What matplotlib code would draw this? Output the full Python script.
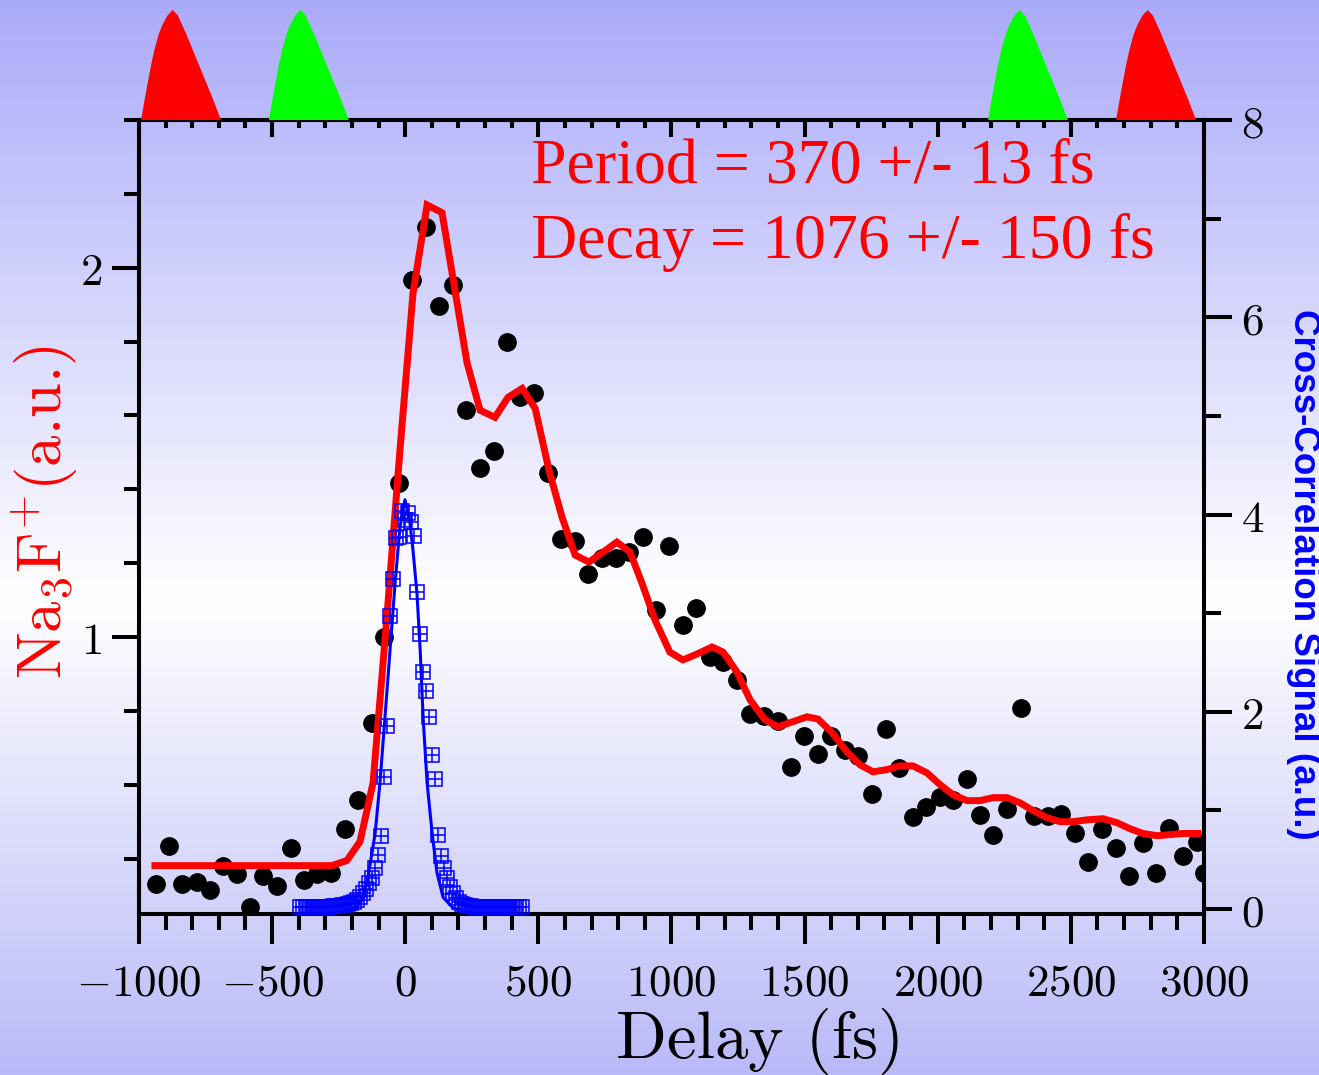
import numpy as np
import matplotlib
matplotlib.use('Agg')
import matplotlib.pyplot as plt
from matplotlib.ticker import MultipleLocator

plt.rcParams['mathtext.fontset'] = 'cm'

# Na3F+ ion signal (black dots), left axis
delay = [-936, -889, -838, -782, -733, -684, -632, -583, -534, -482,
         -429, -380, -331, -279, -226, -177, -125, -80, -23, 26,
         78, 127, 180, 228, 281, 334, 382, 431, 484, 536,
         585, 638, 686, 739, 792, 840, 893, 942, 991, 1043,
         1092, 1145, 1194, 1246, 1295, 1347, 1400, 1449, 1498, 1550,
         1599, 1652, 1701, 1753, 1806, 1855, 1907, 1956, 2009, 2057,
         2110, 2159, 2208, 2260, 2312, 2362, 2414, 2463, 2516, 2565,
         2617, 2670, 2719, 2771, 2820, 2869, 2921, 2974, 3000]
signal = [0.332, 0.435, 0.332, 0.338, 0.314, 0.381, 0.359, 0.268, 0.354, 0.327,
          0.430, 0.343, 0.359, 0.362, 0.481, 0.559, 0.768, 1.000, 1.416, 1.968,
          2.111, 1.895, 1.954, 1.616, 1.459, 1.505, 1.800, 1.651, 1.662, 1.443,
          1.265, 1.259, 1.170, 1.214, 1.214, 1.230, 1.270, 1.073, 1.246, 1.032,
          1.078, 0.946, 0.932, 0.884, 0.792, 0.786, 0.773, 0.649, 0.732, 0.684,
          0.732, 0.695, 0.678, 0.576, 0.751, 0.646, 0.514, 0.541, 0.568, 0.559,
          0.616, 0.519, 0.465, 0.535, 0.808, 0.516, 0.516, 0.522, 0.468, 0.392,
          0.481, 0.430, 0.354, 0.443, 0.362, 0.484, 0.408, 0.446, 0.362]

# fit (red line)
fit_delay = [-940, -275, -219, -170, -121, -69, -20, 29, 82, 138,
             187, 232, 281, 337, 386, 439, 488, 540, 589, 638,
             690, 743, 795, 844, 889, 938, 994, 1043, 1096, 1152,
             1194, 1246, 1295, 1351, 1400, 1453, 1509, 1550, 1603, 1659,
             1708, 1757, 1809, 1858, 1907, 1960, 2009, 2057, 2110, 2159,
             2208, 2260, 2309, 2358, 2410, 2459, 2508, 2561, 2621, 2674,
             2722, 2771, 2824, 2872, 2921, 2978]
fit_signal = [0.381, 0.381, 0.395, 0.446, 0.605, 1.054, 1.505, 1.930, 2.170, 2.149,
              1.938, 1.743, 1.614, 1.595, 1.649, 1.673, 1.619, 1.451, 1.324, 1.222,
              1.203, 1.230, 1.257, 1.230, 1.146, 1.046, 0.959, 0.938, 0.954, 0.973,
              0.959, 0.905, 0.830, 0.776, 0.757, 0.770, 0.784, 0.778, 0.741, 0.689,
              0.654, 0.635, 0.641, 0.651, 0.651, 0.632, 0.600, 0.573, 0.557, 0.557,
              0.565, 0.565, 0.551, 0.530, 0.511, 0.500, 0.500, 0.505, 0.508, 0.497,
              0.481, 0.468, 0.462, 0.465, 0.468, 0.468]

# cross-correlation (blue squares), right axis
xc_delay = [-395, -384, -373, -361, -350, -339, -328, -316, -305, -294,
            -283, -271, -260, -249, -238, -226, -215, -204, -193, -181,
            -170, -158, -147, -136, -124, -113, -102, -91, -80, -68,
            -57, -46, -35, -23, -12, -1, 11, 22, 33, 44,
            56, 67, 78, 89, 101, 112, 123, 134, 146, 157,
            168, 180, 191, 202, 213, 225, 236, 247, 258, 270,
            281, 292, 303, 315, 326, 337, 348, 360, 371, 382,
            393, 405, 416, 427, 438]
xc_signal = [0.02, 0.02, 0.02, 0.02, 0.02, 0.02, 0.02, 0.02, 0.02, 0.02,
             0.02, 0.03, 0.03, 0.03, 0.04, 0.04, 0.05, 0.06, 0.07, 0.09,
             0.12, 0.16, 0.20, 0.26, 0.32, 0.42, 0.55, 0.74, 1.34, 1.86,
             2.97, 3.35, 3.76, 3.77, 4.04, 3.94, 4.02, 3.92, 3.78, 3.21,
             2.79, 2.40, 2.21, 1.95, 1.56, 1.32, 0.75, 0.54, 0.42, 0.31,
             0.22, 0.16, 0.11, 0.07, 0.05, 0.04, 0.03, 0.03, 0.02, 0.02,
             0.02, 0.02, 0.02, 0.02, 0.02, 0.02, 0.02, 0.02, 0.02, 0.02,
             0.02, 0.02, 0.02, 0.02, 0.02]

# cross-correlation fit (blue line)
xcfit_delay = [-200, -180, -162, -140, -113, -95, -76, -57, -38, -20, -1,
               18, 29, 44, 56, 67, 82, 101, 119, 142, 180, 200]
xcfit_signal = [0.0, 0.03, 0.09, 0.32, 0.77, 1.28, 1.95, 2.63, 3.31, 3.87, 4.15,
                3.91, 3.64, 3.20, 2.63, 1.95, 1.28, 0.77, 0.37, 0.12, 0.01, 0.0]

x_ticks = [-1000, -500, 0, 500, 1000, 1500, 2000, 2500, 3000]
x_labels = ['$-1000$', '$-500$', '$0$', '$500$', '$1000$', '$1500$',
            '$2000$', '$2500$', '$3000$']
left_ticks = [1, 2]
left_labels = ['$1$', '$2$']
right_ticks = [0, 2, 4, 6, 8]
right_labels = ['$0$', '$2$', '$4$', '$6$', '$8$']

# pump/probe pulse sketches above the plot
pulse_start = [-992, -512, 2189, 2670]
pulse_colors = ['#ff0000', '#00ff00', '#00ff00', '#ff0000']
pulse_width = 300
pulse_t = [0, 0.04, 0.083, 0.125, 0.167, 0.22, 0.27, 0.33, 0.396, 0.46,
           0.56, 0.645, 0.73, 0.815, 0.9, 1.0]
pulse_h = [0, 0.17, 0.34, 0.50, 0.64, 0.78, 0.87, 0.95, 1.0, 0.95,
           0.79, 0.64, 0.49, 0.34, 0.19, 0]

W, H = 1319, 1075
fig = plt.figure(figsize=(W / 100, H / 100), dpi=100)

# background gradient
bg = fig.add_axes([0, 0, 1, 1], zorder=-10)
top_c = np.array([170, 170, 250]) / 255
mid_c = np.array([255, 255, 255]) / 255
bot_c = np.array([185, 185, 248]) / 255
grad = np.zeros((H, 1, 3))
for i in range(H):
    if i < 600:
        f = i / 600
        grad[i, 0] = top_c * (1 - f) + mid_c * f
    else:
        f = (i - 600) / (H - 600)
        grad[i, 0] = mid_c * (1 - f) + bot_c * f
bg.imshow(grad, aspect='auto', extent=[0, 1, 0, 1])
bg.axis('off')

L, R, T, B = 139, 1204, 120, 914
ax = fig.add_axes([L / W, 1 - B / H, (R - L) / W, (B - T) / H])
ax.set_facecolor('none')

ax.plot(delay, signal, 'o', color='black', ms=12.5, zorder=2)
ax.plot(fit_delay, fit_signal, color='#ff0000', lw=5, zorder=3,
        solid_joinstyle='miter')

ax.set_xlim(-1000, 3000)
ax.set_ylim(0.25, 2.4)
ax.set_xticks(x_ticks, x_labels)
ax.set_yticks(left_ticks, left_labels)
ax.xaxis.set_minor_locator(MultipleLocator(100))
ax.yaxis.set_minor_locator(MultipleLocator(0.2))
ax.tick_params(axis='x', which='major', direction='out', length=21.5, width=2.9,
               labelsize=32.5, pad=13)
ax.tick_params(axis='x', which='minor', direction='out', length=11.5, width=2.9)
ax.tick_params(axis='y', which='major', direction='out', length=19.5, width=2.9,
               labelsize=32.5, pad=7)
ax.tick_params(axis='y', which='minor', direction='out', length=10.5, width=2.9)
for s in ax.spines.values():
    s.set_linewidth(2.9)

top = ax.secondary_xaxis('top')
top.set_xticks(x_ticks, [''] * len(x_ticks))
top.xaxis.set_minor_locator(MultipleLocator(100))
top.tick_params(which='major', direction='in', length=12, width=2.9)
top.tick_params(which='minor', direction='in', length=6, width=2.9)
top.spines['top'].set_linewidth(2.9)

ax2 = ax.twinx()
ax2.plot(xcfit_delay, xcfit_signal, color='#0000ff', lw=2.2, zorder=3)
ax2.plot(xc_delay, xc_signal, 's', ms=10.5, mfc='none', mec='#0000ff', mew=1.1,
         zorder=4)
ax2.plot(xc_delay, xc_signal, '+', ms=10.5, mec='#0000ff', mew=1.1, zorder=4)
ax2.set_ylim(-0.05, 8.0)
ax2.set_yticks(right_ticks, right_labels)
ax2.yaxis.set_minor_locator(MultipleLocator(1))
ax2.tick_params(axis='y', which='major', direction='out', length=20, width=2.9,
                labelsize=32.5, pad=7)
ax2.tick_params(axis='y', which='minor', direction='out', length=12, width=2.9)
for s in ax2.spines.values():
    s.set_linewidth(2.9)

ax.text(0.368, 0.921, 'Period = 370 +/- 13 fs', transform=ax.transAxes,
        color='#ff0000', fontsize=46, family='Liberation Serif', va='baseline')
ax.text(0.368, 0.826, 'Decay = 1076 +/- 150 fs', transform=ax.transAxes,
        color='#ff0000', fontsize=46, family='Liberation Serif', va='baseline')

fig.text(760 / W, 1 - 1058 / H, 'Delay (fs)', fontsize=48, family='cmr10',
         ha='center', va='baseline')
fig.text(45 / W, 1 - 512 / H, r'$\mathrm{Na_3F^{{+}}}$(a.u.)', fontsize=45,
         family='cmr10', color='#ff0000', rotation=90, ha='center', va='center')
fig.text(1303 / W, 1 - 574 / H, 'Cross-Correlation Signal (a.u.)', fontsize=26.5,
         color='#0000ff', family='Liberation Sans', weight='bold', rotation=270,
         ha='center', va='center')

# pulses
pax = fig.add_axes([L / W, 1 - T / H, (R - L) / W, T / H])
pax.set_xlim(-1000, 3000)
pax.set_ylim(0, T / 110)
pax.axis('off')
for x0, c in zip(pulse_start, pulse_colors):
    px = [x0 + t * pulse_width for t in pulse_t]
    pax.fill(px, pulse_h, color=c, lw=0)

fig.savefig('out.png', dpi=100)
